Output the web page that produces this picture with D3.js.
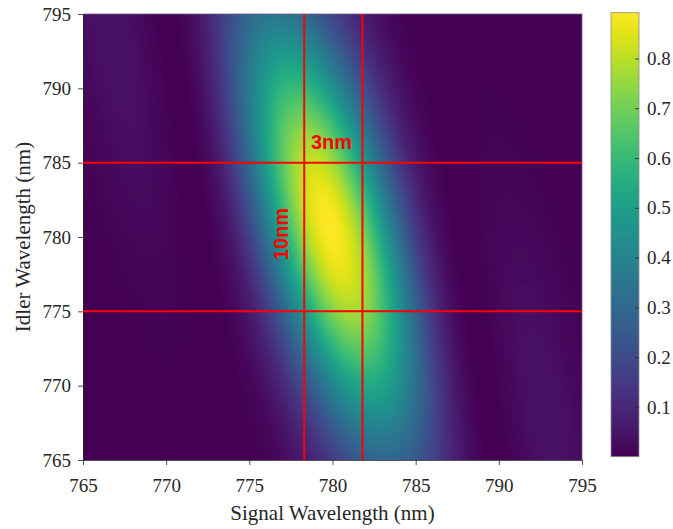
<!DOCTYPE html>
<html>
<head>
<meta charset="utf-8">
<script src="https://cdn.jsdelivr.net/npm/d3@7"></script>
<style>
  body { margin: 0; background: #fff; }
  svg { display: block; }
</style>
</head>
<body>
<div id="container"></div>
<script>
/* axis ticks */
const signalTicks = [765, 770, 775, 780, 785, 790, 795]
const idlerTicks = [765, 770, 775, 780, 785, 790, 795]
const colorTicks = [0.1, 0.2, 0.3, 0.4, 0.5, 0.6, 0.7, 0.8]

/* red marker lines and their labels */
const markerSignal = [778.3, 781.8]
const markerIdler = [775, 785]
const markerLabels = ["3nm", "10nm"]

/* joint spectrum:
   phase-matching ridge (signal position at two idler rows),
   width of its main lobe (nm to first zero),
   pump band (signal + idler centre, width) and peak value */
const ridgeIdler = [765.7, 794]
const ridgeSignal = [781.7, 778.2]
const ridgeZero = [8]
const pumpSum = [1560.5]
const pumpSigma = [8.7]
const peakValue = [0.892]

const width = 673
const height = 529

const serif = "'Liberation Serif', 'Times New Roman', Times, 'DejaVu Serif', serif"
const sans = "'Liberation Sans', Arial, Helvetica, sans-serif"

const plot = { left: 83, right: 582, top: 14, bottom: 460 }
const cbar = { left: 611, right: 639, top: 12.7, bottom: 456.7 }

const x = d3.scaleLinear([765, 795], [plot.left, plot.right])
const y = d3.scaleLinear([765, 795], [plot.bottom, plot.top])
const color = d3.scaleSequential([0, peakValue[0]], d3.interpolateViridis)

// ridge line, signal as a function of idler
const ridge = d3.scaleLinear(ridgeIdler, ridgeSignal)

const sinc2 = (u) => {
  if (Math.abs(u) < 1e-6) return 1
  const s = Math.sin(Math.PI * u) / (Math.PI * u)
  return s * s
}

const jsi = (ls, li) => {
  const pm = sinc2((ls - ridge(li)) / ridgeZero[0])
  const d = ls + li - pumpSum[0]
  const pump = Math.exp(-d * d / (2 * pumpSigma[0] * pumpSigma[0]))
  return peakValue[0] * pm * pump
}

/* heat map drawn on a canvas, put into the svg as an image */
const cw = plot.right - plot.left
const ch = plot.bottom - plot.top
const canvas = document.createElement("canvas")
canvas.width = cw
canvas.height = ch
const ctx = canvas.getContext("2d")
const img = ctx.createImageData(cw, ch)
for (let j = 0; j < ch; j++) {
  const li = y.invert(plot.top + j + 0.5)
  for (let i = 0; i < cw; i++) {
    const ls = x.invert(plot.left + i + 0.5)
    const c = d3.rgb(color(jsi(ls, li)))
    const k = (j * cw + i) * 4
    img.data[k] = c.r
    img.data[k + 1] = c.g
    img.data[k + 2] = c.b
    img.data[k + 3] = 255
  }
}
ctx.putImageData(img, 0, 0)

const svg = d3.create("svg")
  .attr("width", width)
  .attr("height", height)
  .attr("viewBox", [0, 0, width, height])
  .attr("font-family", serif)

svg.append("image")
  .attr("x", plot.left)
  .attr("y", plot.top)
  .attr("width", cw)
  .attr("height", ch)
  .attr("preserveAspectRatio", "none")
  .attr("href", canvas.toDataURL())

// axes
const xAxis = svg.append("g")
  .attr("transform", `translate(0,${plot.bottom})`)
  .call(d3.axisBottom(x).tickValues(signalTicks).tickSize(5).tickPadding(14).tickSizeOuter(0))
const yAxis = svg.append("g")
  .attr("transform", `translate(${plot.left},0)`)
  .call(d3.axisLeft(y).tickValues(idlerTicks).tickSize(5).tickPadding(7).tickSizeOuter(0))

for (const ax of [xAxis, yAxis]) {
  ax.attr("font-family", serif).attr("font-size", 19)
  ax.select(".domain").attr("stroke", "#262626").attr("stroke-width", 0.8)
  ax.selectAll(".tick line").attr("stroke", "#262626").attr("stroke-width", 0.8)
  ax.selectAll(".tick text").attr("fill", "#262626")
}

// box edges top/right
svg.append("path")
  .attr("d", `M${plot.left},${plot.top}H${plot.right}V${plot.bottom}`)
  .attr("fill", "none")
  .attr("stroke", "#6b5a88")
  .attr("stroke-width", 0.8)

// red marker lines
svg.append("g")
  .selectAll("line")
  .data(markerSignal)
  .join("line")
    .attr("x1", (d) => x(d))
    .attr("x2", (d) => x(d))
    .attr("y1", plot.top)
    .attr("y2", plot.bottom)
    .attr("stroke", "#ff0000")
    .attr("stroke-width", 2)

svg.append("g")
  .selectAll("line")
  .data(markerIdler)
  .join("line")
    .attr("x1", plot.left)
    .attr("x2", plot.right)
    .attr("y1", (d) => y(d))
    .attr("y2", (d) => y(d))
    .attr("stroke", "#ff0000")
    .attr("stroke-width", 2)

// marker labels
svg.append("text")
  .attr("x", x(778.7))
  .attr("y", y(785) - 13.5)
  .attr("fill", "#ff0000")
  .attr("font-family", sans)
  .attr("font-weight", "bold")
  .attr("font-size", 20)
  .text(markerLabels[0])

svg.append("text")
  .attr("transform", `translate(${x(777.3)},${y(780.2)}) rotate(-90)`)
  .attr("text-anchor", "middle")
  .attr("fill", "#ff0000")
  .attr("font-family", sans)
  .attr("font-weight", "bold")
  .attr("font-size", 20)
  .text(markerLabels[1])

// axis titles
svg.append("text")
  .attr("x", (plot.left + plot.right) / 2)
  .attr("y", 520)
  .attr("text-anchor", "middle")
  .attr("fill", "#262626")
  .attr("font-size", 21)
  .text("Signal Wavelength (nm)")

svg.append("text")
  .attr("transform", `translate(30,${(plot.top + plot.bottom) / 2}) rotate(-90)`)
  .attr("text-anchor", "middle")
  .attr("fill", "#262626")
  .attr("font-size", 21)
  .text("Idler Wavelength (nm)")

// colorbar
const cScale = d3.scaleLinear([0, peakValue[0]], [cbar.bottom, cbar.top])
const grad = svg.append("defs").append("linearGradient")
  .attr("id", "cbgrad")
  .attr("x1", 0).attr("y1", 1).attr("x2", 0).attr("y2", 0)
grad.selectAll("stop")
  .data(d3.range(0, 1.0001, 0.05))
  .join("stop")
    .attr("offset", (d) => d)
    .attr("stop-color", (d) => d3.interpolateViridis(d))

svg.append("rect")
  .attr("x", cbar.left)
  .attr("y", cbar.top)
  .attr("width", cbar.right - cbar.left)
  .attr("height", cbar.bottom - cbar.top)
  .attr("fill", "url(#cbgrad)")
  .attr("stroke", "#8c8c8c")
  .attr("stroke-width", 0.8)

const cAxis = svg.append("g")
  .attr("transform", `translate(${cbar.right},0)`)
  .call(d3.axisRight(cScale).tickValues(colorTicks).tickSize(-4).tickPadding(8).tickSizeOuter(0))
cAxis.attr("font-family", serif).attr("font-size", 19)
cAxis.select(".domain").remove()
cAxis.selectAll(".tick line").attr("stroke", "#262626").attr("stroke-width", 0.8)
cAxis.selectAll(".tick text").attr("fill", "#262626")

container.append(svg.node())
</script>
</body>
</html>
